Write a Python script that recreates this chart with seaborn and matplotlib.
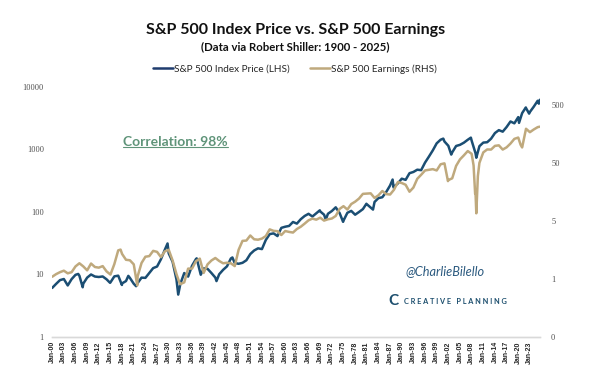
import pandas as pd
import seaborn as sns
import matplotlib.pyplot as plt
from matplotlib.lines import Line2D

# Prezzo S&P 500 (gennaio di ogni anno, 1900-2025)
price_years = list(range(1900, 2026))
price_values = [
    6.10, 7.07, 8.12, 8.46, 6.68, 8.43, 9.87, 9.56, 7.14, 8.91,
    10.0, 9.27, 9.12, 9.30, 8.37, 7.48, 9.33, 9.57, 7.21, 7.85,
    8.83, 7.11, 7.30, 8.90, 8.83, 10.58, 12.65, 13.40, 17.53, 24.86,
    21.71, 15.98, 8.30, 7.09, 10.54, 9.26, 13.76, 17.59, 11.31, 12.50,
    12.30, 10.55, 8.93, 10.09, 11.85, 13.49, 18.02, 15.21, 14.83, 15.36,
    16.88, 21.21, 24.19, 26.18, 25.46, 35.60, 44.15, 45.43, 41.12, 55.62,
    58.03, 59.72, 69.07, 65.06, 76.45, 86.12, 93.32, 84.45, 95.04, 102.0,
    90.31, 93.49, 103.3, 118.4, 96.11, 72.56, 96.86, 103.8, 90.25, 99.71,
    110.9, 132.97, 117.3, 144.3, 166.4, 171.6, 208.2, 264.5, 250.5, 285.4,
    339.97, 325.5, 416.08, 435.23, 472.99, 465.25, 614.42, 766.22, 963.36, 1248.77,
    1425.59, 1335.63, 1140.21, 895.84, 1132.52, 1181.41, 1278.72, 1424.16, 1378.76, 865.58,
    1123.58, 1282.62, 1300.58, 1480.40, 1822.36, 2028.18, 1918.60, 2275.12, 2789.80, 2607.39,
    3278.20, 3793.75, 4573.82, 3960.66, 4815.61, 5979.52,
]
# picchi e minimi infra-annuali
price_extra_years = [1906.7, 1907.85, 1914.9, 1917.95, 1919.6, 1921.6, 1929.7, 1932.45,
                     1937.2, 1938.25, 1942.3, 1946.4, 1968.9, 1970.45, 1972.95, 1974.9,
                     1980.9, 1982.6, 1987.65, 1987.9, 2000.7, 2002.75, 2007.8, 2009.2,
                     2020.2, 2021.95, 2022.8, 2025.3, 2025.55]
price_extra_values = [10.2, 6.25, 7.35, 6.8, 9.5, 6.5, 31.3, 4.77,
                      18.1, 9.9, 7.84, 18.7, 106, 75.6, 118, 69.4,
                      135, 109, 329, 245, 1485, 825, 1539, 735,
                      2652, 4675, 3726, 5370, 6200]

# Utili S&P 500 (gennaio di ogni anno, 1900-2025)
earn_years = list(range(1900, 2026))
earn_values = [
    0.55, 0.61, 0.66, 0.70, 0.63, 0.66, 0.83, 0.94, 0.83, 0.71,
    0.93, 0.81, 0.79, 0.84, 0.68, 0.60, 0.91, 1.57, 1.36, 1.08,
    1.06, 0.90, 0.56, 0.95, 1.22, 1.25, 1.54, 1.48, 1.20, 1.51,
    1.61, 1.05, 0.61, 0.41, 0.44, 0.76, 0.76, 1.02, 1.13, 0.64,
    0.90, 1.05, 1.16, 1.03, 0.94, 0.96, 0.94, 0.84, 1.61, 2.29,
    2.32, 2.84, 2.44, 2.40, 2.51, 2.77, 3.62, 3.41, 3.37, 2.89,
    3.39, 3.27, 3.19, 3.67, 4.02, 4.55, 5.19, 5.55, 5.33, 5.76,
    5.13, 5.41, 5.57, 6.17, 8.16, 9.11, 7.96, 9.91, 10.89, 12.33,
    14.86, 14.99, 15.18, 12.64, 14.03, 16.64, 14.72, 14.48, 17.50, 23.75,
    22.87, 21.34, 16.18, 19.09, 27.05, 31.75, 37.70, 38.73, 39.72, 37.71,
    48.17, 50.00, 25.71, 27.59, 45.22, 58.55, 68.72, 81.51, 73.03, 15.31,
    50.97, 77.35, 86.95, 86.51, 100.20, 102.31, 86.53, 94.55, 109.88, 132.39,
    139.47, 94.13, 197.87, 172.75, 192.43, 211.0,
]
earn_extra_years = [1917.6, 1921.9, 1932.9, 2001.9, 2008.5, 2008.9, 2009.2, 2009.6, 2020.6, 2025.55]
earn_extra_values = [1.62, 0.39, 0.41, 24.69, 45.95, 14.88, 6.86, 30.0, 105.0, 215.0]

x_ticks = list(range(1900, 2024, 3))
x_labels = [f"Jan-{y % 100:02d}" for y in x_ticks]
left_ticks = [1, 10, 100, 1000, 10000]
right_ticks = [0.05, 0.5, 5, 50, 500]
right_labels = ["0", "1", "5", "50", "500"]

price = pd.DataFrame({'Year': price_years + price_extra_years,
                      'Price': price_values + price_extra_values}).sort_values('Year')
earn = pd.DataFrame({'Year': earn_years + earn_extra_years,
                     'Earnings': earn_values + earn_extra_values}).sort_values('Year')

sns.set_style('white')
plt.rcParams['font.family'] = ['Lato', 'DejaVu Sans']

blue = '#1b4e73'
tan = '#bfa97d'

fig = plt.figure(figsize=(6, 3.91), dpi=100)
ax = fig.add_axes([0.087, 0.138, 0.813, 0.64])
ax2 = ax.twinx()

sns.lineplot(data=price, x='Year', y='Price', ax=ax, color=blue, linewidth=1.8, sort=False)
sns.lineplot(data=earn, x='Year', y='Earnings', ax=ax2, color=tan, linewidth=1.8, sort=False)

ax.set_yscale('log')
ax2.set_yscale('log')
ax.set_ylim(1, 10000)
ax2.set_ylim(0.05, 1050)
ax.set_xlim(1900, 2025.6)

ax.set_yticks(left_ticks)
ax.set_yticklabels([str(t) for t in left_ticks], family='Liberation Serif', fontsize=6, color='#505050')
ax.yaxis.set_minor_locator(plt.NullLocator())
ax2.set_yticks(right_ticks)
ax2.set_yticklabels(right_labels, family='Liberation Serif', fontsize=6, color='#505050')
ax2.yaxis.set_minor_locator(plt.NullLocator())
ax.set_xticks(x_ticks)
ax.set_xticklabels(x_labels, rotation=90, family='Liberation Sans', fontsize=5, fontweight='bold')

ax.tick_params(length=0, pad=6)
ax2.tick_params(length=0, pad=8)
ax.tick_params(axis='x', pad=3)
ax.set_xlabel('')
ax.set_ylabel('')
ax2.set_ylabel('')
for a in (ax, ax2):
    for s in ('top', 'left', 'right'):
        a.spines[s].set_visible(False)
    a.spines['bottom'].set_color('#d9d9d9')
    a.spines['bottom'].set_linewidth(1)

fig.text(0.492, 0.922, 'S&P 500 Index Price vs. S&P 500 Earnings', ha='center', va='center',
         fontsize=11.5, fontweight='bold', color='#111111')
fig.text(0.492, 0.880, '(Data via Robert Shiller: 1900 - 2025)', ha='center', va='center',
         fontsize=8.2, fontweight='bold', color='#111111')

handles = [Line2D([], [], color='#1f3c6e', linewidth=1.8), Line2D([], [], color=tan, linewidth=1.8)]
fig.legend(handles, ['S&P 500 Index Price (LHS)', 'S&P 500 Earnings (RHS)'], loc='center',
           bbox_to_anchor=(0.492, 0.823), ncol=2, frameon=False, fontsize=7.2,
           handlelength=2.0, handletextpad=0.1, columnspacing=2.0)

# testo correlazione sottolineato
corr = fig.text(0.205, 0.637, 'Correlation: 98%', ha='left', va='center',
                fontsize=10, fontweight='bold', color='#5f9479')
fig.canvas.draw()
bb = corr.get_window_extent().transformed(fig.transFigure.inverted())
fig.add_artist(Line2D([bb.x0, bb.x1], [bb.y0 + 0.002, bb.y0 + 0.002], color='#5f9479', linewidth=0.8))

fig.text(0.675, 0.307, '@CharlieBilello', ha='left', va='center', fontsize=9.2,
         style='italic', color='#2d5b80')
fig.text(0.647, 0.230, 'C', ha='left', va='center', fontsize=11, fontweight='bold', color='#1d4f6e')
fig.text(0.674, 0.230, 'C R E A T I V E   P L A N N I N G', ha='left', va='center',
         fontsize=5.3, fontweight='bold', color='#1d4f6e')

fig.savefig('out.png', dpi=100)
plt.close()
